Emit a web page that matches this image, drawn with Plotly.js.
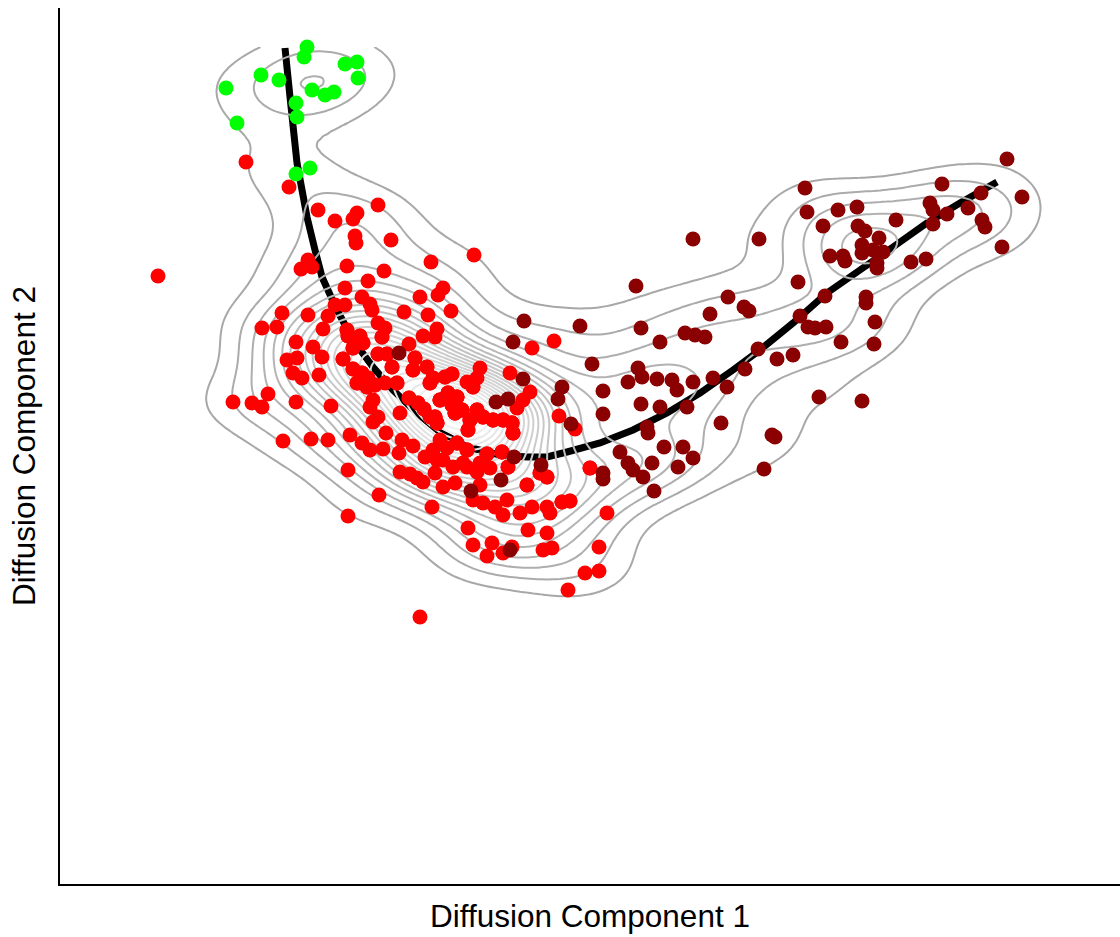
<!DOCTYPE html>
<html><head><meta charset="utf-8">
<script src="https://cdn.plot.ly/plotly-3.0.1.min.js"></script>
<style>html,body{margin:0;padding:0;background:#fff}#chart{width:1120px;height:937px}</style>
</head><body><div id="chart"></div>
<script>
// Diffusion map coordinates (arbitrary units)
const greenDC1 = [247,244,201,219,166,252,265,274,285,297,298,236,237,177,250,236];
const greenDC2 = [837,827,809,804,796,794,789,792,820,822,806,781,767,761,716,710];

const redDC1 = [186,229,258,275,297,293,318,295,296,331,371,414,98,248,241,252,287,324,308,285,
302,310,312,275,285,268,263,248,222,217,202,236,253,262,227,237,233,242,259,283,
287,288,300,303,293,318,325,322,318,327,344,360,378,383,391,368,377,363,375,349,
355,332,293,302,308,315,297,307,337,313,310,318,313,340,326,349,358,367,373,385,
370,353,392,407,420,417,413,388,397,380,392,395,364,377,375,402,410,423,417,433,
443,450,470,463,452,457,453,173,192,202,208,236,271,223,251,268,288,319,372,288,
290,302,310,323,342,353,339,380,373,387,397,407,427,442,420,430,448,383,393,407,
417,365,377,403,340,350,357,363,375,383,395,420,423,435,447,443,460,472,413,490,
467,487,502,510,547,408,413,432,452,468,487,427,443,483,492,539,525,539,508,360,
472,494,499,515,487,480,530,325,370];
const redDC2 = [722,697,674,663,671,665,679,648,641,644,622,629,608,624,615,617,618,613,603,596,
587,580,574,579,579,568,555,569,571,557,556,542,537,527,524,526,511,506,509,525,
554,548,548,541,536,561,556,547,530,530,572,587,589,596,573,569,555,548,547,540,
526,517,515,511,506,499,501,497,501,484,477,467,462,471,451,486,481,517,506,507,
501,514,510,502,516,506,497,491,487,484,479,471,475,461,467,474,464,467,474,464,
464,511,492,484,461,476,451,482,481,477,490,482,478,443,445,444,414,389,377,368,
449,441,434,435,444,438,431,444,434,436,441,434,430,432,421,416,417,424,417,417,
412,427,424,421,412,410,406,402,411,397,401,399,381,377,384,369,371,377,384,371,
399,377,382,383,371,356,339,341,337,354,351,328,331,334,336,337,311,313,294,267,
536,543,468,455,407,411,416,501,467];

// Overplotted cells hidden inside the dense red core (estimated)
const redCoreDC1 = [283,287,288,300,303,293,322,318,327,355,332,293,302,308,315,297,307,337,349,358,
367,373,385,370,353,392,413,388,397,380,392,395,364,377,375,402,410,423,408,417,
433,443,452,453,397,407,427,442,448,467,502,510,487,480,530,
392,395,402,410,423,408,417,433,443,452,453,427,442,397,407,388,397,380,377,375];
const redCoreDC2 = [525,554,548,548,541,536,547,530,530,526,517,515,511,506,499,501,497,501,486,481,
517,506,507,501,514,510,497,491,487,484,479,471,475,461,467,474,464,467,454,474,
464,464,461,451,441,434,430,432,417,399,382,383,407,411,416,
479,471,474,464,467,454,474,464,464,461,451,430,432,441,434,491,487,484,461,467];

const darkDC1 = [339,463,436,448,453,464,520,576,581,600,625,635,532,578,582,568,597,612,617,633,
502,498,543,581,600,627,543,511,587,588,560,604,623,633,568,573,583,592,618,594,
543,543,481,454,441,411,450,947,882,921,962,870,873,887,908,873,922,925,942,745,
747,778,797,836,763,798,805,819,802,802,813,823,817,817,770,783,785,851,866,633,
699,738,765,806,806,668,650,684,689,740,748,755,766,815,814,781,645,698,717,733,
685,653,667,661,759,802,712,715,704];
const darkDC2 = [531,505,482,485,542,563,558,598,556,542,551,549,520,516,507,502,505,504,494,502,
497,485,493,480,477,477,470,460,457,451,432,437,437,426,421,414,407,421,417,393,
411,405,419,427,404,393,334,725,700,691,687,681,674,670,676,660,664,657,637,696,
672,674,677,664,658,658,653,646,639,631,634,632,621,616,628,628,623,622,625,645,
645,602,588,587,581,587,570,577,573,568,557,556,557,562,540,542,547,535,525,529,
515,506,497,461,487,483,449,447,415];

// Fitted trajectory (principal curve)
const curveDC1 = [225,230,237,247,255,262,277,293,313,333,357,380,407,440,467,487,507,540,573,607,640,673,700,733,767,800,833,867,900,937];
const curveDC2 = [836,787,721,667,634,607,574,544,517,494,471,452,437,429,427,427,432,441,454,471,491,514,534,561,591,614,637,661,681,702];

const xRange = [0, 1060];
const yRange = [0, 876];

// ---- 2D kernel density (kde2d style) ----
const redAllX = redDC1.concat(redCoreDC1), redAllY = redDC2.concat(redCoreDC2);
const allX = greenDC1.concat(redAllX, darkDC1);
const allY = greenDC2.concat(redAllY, darkDC2);
function quant(s, p){ const h=(s.length-1)*p, lo=Math.floor(h); return lo+1<s.length ? s[lo]+(h-lo)*(s[lo+1]-s[lo]) : s[lo]; }
function bwNrd(v){
  const n=v.length, m=v.reduce((a,b)=>a+b,0)/n;
  const sd=Math.sqrt(v.reduce((a,b)=>a+(b-m)*(b-m),0)/(n-1));
  const s=v.slice().sort((a,b)=>a-b);
  const iqr=(quant(s,0.75)-quant(s,0.25))/1.34;
  return 4*1.06*Math.min(sd,iqr)*Math.pow(n,-0.2);
}
const bwAdjust = 0.9;
const hx = bwAdjust*bwNrd(allX)/4, hy = bwAdjust*bwNrd(allY)/4;
const NG = 160;
const yTop = Math.max.apply(null, allY);
const gx = [], gy = [];
for (let i=0;i<NG;i++){ gx.push(xRange[0]+(xRange[1]-xRange[0])*i/(NG-1)); gy.push(yRange[0]+(yTop-yRange[0])*i/(NG-1)); }
const z = [];
let zmax = 0;
const N = allX.length;
for (let j=0;j<NG;j++){
  const row=[];
  for (let i=0;i<NG;i++){
    let s=0;
    for (let k=0;k<N;k++){
      const dx=(gx[i]-allX[k])/hx, dy=(gy[j]-allY[k])/hy;
      s+=Math.exp(-0.5*(dx*dx+dy*dy));
    }
    s/= (N*2*Math.PI*hx*hy);
    row.push(s); if(s>zmax) zmax=s;
  }
  z.push(row);
}
const nLev = 25;
const step = zmax/nLev;
const firstLevel = 1.2*step;

const curvePath = curveDC1.map((x,i)=>(i?'L':'M')+x+','+curveDC2[i]).join(' ');

const mk = (c)=>({color:c, size:15, line:{width:0}});
const traces = [
  {type:'contour', x:gx, y:gy, z:z, showscale:false, hoverinfo:'skip',
   contours:{coloring:'lines', start:firstLevel, end:zmax, size:step},
   colorscale:[[0,'#a8a8a8'],[1,'#f2f2f2']], zauto:false, zmin:firstLevel, zmax:zmax,
   line:{width:2, smoothing:1.2}},
  {type:'scatter', mode:'markers', x:redAllX, y:redAllY, marker:mk('#FF0000'), hoverinfo:'skip'},
  {type:'scatter', mode:'markers', x:darkDC1, y:darkDC2, marker:mk('#8B0000'), hoverinfo:'skip'},
  {type:'scatter', mode:'markers', x:greenDC1, y:greenDC2, marker:mk('#00FF00'), hoverinfo:'skip'}
];

const titleFont = {family:'Liberation Sans, Arial, sans-serif', size:31.5, color:'#000'};
const axisBase = {showgrid:false, zeroline:false, showticklabels:false, ticks:'', showline:true,
  linecolor:'#000', linewidth:2, automargin:false, fixedrange:true};
const layout = {
  width:1120, height:937, margin:{l:60, r:0, t:8, b:53},
  paper_bgcolor:'#fff', plot_bgcolor:'#fff', showlegend:false,
  xaxis:Object.assign({}, axisBase, {range:xRange, title:{text:'Diffusion Component 1', font:titleFont, standoff:20}}),
  yaxis:Object.assign({}, axisBase, {range:yRange, title:{text:'Diffusion Component 2', font:titleFont, standoff:13}}),
  shapes:[{type:'path', path:curvePath, xref:'x', yref:'y', layer:'below', line:{color:'#000', width:7}}]
};
Plotly.newPlot('chart', traces, layout, {displayModeBar:false, staticPlot:true});
</script>
</body></html>
